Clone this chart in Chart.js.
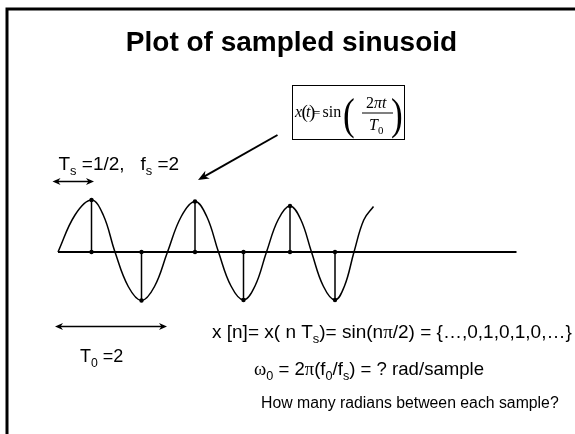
<!DOCTYPE html>
<html>
<head>
<meta charset="utf-8">
<script src="https://cdn.jsdelivr.net/npm/chart.js@4.4.0/dist/chart.umd.min.js"></script>
<style>
  body { margin: 0; background: #fff; }
  #wrap { position: relative; width: 575px; height: 434px; }
</style>
</head>
<body>
<div id="wrap"><canvas id="sinePlot" width="575" height="434"></canvas></div>
<script>
// time axis: 1 unit ~ 50px, period ~2 ; y in units of amplitude
const curveT = [0, 0.34, 0.67, 0.905, 1.14, 1.405, 1.67, 1.93, 2.19, 2.465, 2.74, 2.975, 3.21, 3.46, 3.71, 3.94, 4.17, 4.405, 4.64, 4.855, 5.07, 5.305, 5.54, 5.73, 5.92, 6.115, 6.31];
const curveY = [0, 0.74, 1.04, 0.74, 0, -0.69, -0.97, -0.69, 0, 0.71, 1.01, 0.71, 0, -0.68, -0.96, -0.68, 0, 0.65, 0.92, 0.65, 0, -0.68, -0.96, -0.68, 0, 0.64, 0.91];
const sampleT = [0.67, 1.67, 2.74, 3.71, 4.64, 5.54];
const sampleY = [1.04, -0.97, 1.01, -0.96, 0.92, -0.96];
const axisT = [0, 9.17];

// annotation arrows, same units
const tsArrow = { from: [-0.11, 1.41], to: [0.72, 1.41] };
const t0Arrow = { from: [-0.06, -1.49], to: [2.18, -1.49] };
const eqArrow = { from: [4.39, 2.34], to: [2.8, 1.44] };

const curve = {
  data: curveT.map((t, i) => ({ x: t, y: curveY[i] })),
  borderColor: '#000', borderWidth: 1.5, pointRadius: 0, tension: 0.4, fill: false
};
const axisLine = {
  data: axisT.map(t => ({ x: t, y: 0 })),
  borderColor: '#000', borderWidth: 2, pointRadius: 0, fill: false
};
const stems = sampleT.map((t, i) => ({
  data: [{ x: t, y: 0 }, { x: t, y: sampleY[i] }],
  borderColor: '#000', borderWidth: 1.5, pointRadius: 2.2,
  pointBackgroundColor: '#000', pointBorderWidth: 0, fill: false
}));

function arrowHead(ctx, x1, y1, x2, y2, len, half) {
  const a = Math.atan2(y2 - y1, x2 - x1);
  ctx.beginPath();
  ctx.moveTo(x2, y2);
  ctx.lineTo(x2 - len * Math.cos(a) + half * Math.sin(a), y2 - len * Math.sin(a) - half * Math.cos(a));
  ctx.lineTo(x2 - len * 0.7 * Math.cos(a), y2 - len * 0.7 * Math.sin(a));
  ctx.lineTo(x2 - len * Math.cos(a) - half * Math.sin(a), y2 - len * Math.sin(a) + half * Math.cos(a));
  ctx.closePath();
  ctx.fill();
}

function drawRuns(ctx, x, y, size, runs) {
  runs.forEach(r => {
    const s = r.sub ? size * 0.68 : size;
    const fam = r.serif ? '"Liberation Serif"' : '"Liberation Sans"';
    ctx.font = (r.italic ? 'italic ' : '') + s + 'px ' + fam;
    ctx.fillText(r.t, x, y + (r.sub ? size * 0.25 : 0));
    x += ctx.measureText(r.t).width;
  });
}

// place single glyphs at given x
function serifAt(ctx, txt, x, y, size, italic) {
  ctx.font = (italic ? 'italic ' : '') + size + 'px "Liberation Serif"';
  ctx.fillText(txt, x, y);
}

const slideDecor = {
  id: 'slideDecor',
  afterDraw(chart) {
    const ctx = chart.ctx;
    const sx = chart.scales.x, sy = chart.scales.y;
    const px = p => [sx.getPixelForValue(p[0]), sy.getPixelForValue(p[1])];
    ctx.save();
    ctx.fillStyle = '#000';
    ctx.strokeStyle = '#000';

    // slide frame
    ctx.lineWidth = 3;
    ctx.beginPath();
    ctx.moveTo(7, 434);
    ctx.lineTo(7, 9);
    ctx.lineTo(575, 9);
    ctx.stroke();

    // double arrows
    ctx.lineWidth = 1.5;
    [tsArrow, t0Arrow].forEach(a => {
      const [x1, y1] = px(a.from), [x2, y2] = px(a.to);
      ctx.beginPath();
      ctx.moveTo(x1 + 3, y1);
      ctx.lineTo(x2 - 3, y2);
      ctx.stroke();
      arrowHead(ctx, x1, y1, x2, y2, 8, 3.5);
      arrowHead(ctx, x2, y2, x1, y1, 8, 3.5);
    });

    // arrow from formula to curve
    {
      const [x1, y1] = px(eqArrow.from), [x2, y2] = px(eqArrow.to);
      ctx.lineWidth = 2;
      ctx.beginPath();
      ctx.moveTo(x1, y1);
      ctx.lineTo(x2 + 6, y2 - 3.4);
      ctx.stroke();
      arrowHead(ctx, x1, y1, x2, y2, 11, 4.5);
    }

    // formula box
    ctx.lineWidth = 1;
    ctx.strokeRect(292.5, 85.5, 112, 54);
    serifAt(ctx, 'x', 295, 117, 16, true);
    serifAt(ctx, '(', 301.5, 118, 19, false);
    serifAt(ctx, 't', 306, 117, 16, true);
    serifAt(ctx, ')', 309, 118, 19, false);
    serifAt(ctx, '=', 313, 117, 13, false);
    serifAt(ctx, 'sin', 322.5, 117, 16, false);
    ctx.save();
    ctx.translate(0, 0);
    ctx.scale(0.8, 1);
    serifAt(ctx, '(', 343 / 0.8, 129, 44, false);
    serifAt(ctx, ')', 391 / 0.8, 129, 44, false);
    ctx.restore();
    drawRuns(ctx, 366, 108, 16, [{ t: '2', serif: true }, { t: 'πt', serif: true, italic: true }]);
    ctx.fillRect(362, 112.5, 31, 1);
    drawRuns(ctx, 369, 130, 16, [{ t: 'T', serif: true, italic: true }, { t: '0', serif: true, sub: true }]);

    // labels
    drawRuns(ctx, 58.5, 170, 19, [
      { t: 'T' }, { t: 's', sub: true }, { t: ' =1/2,   f' }, { t: 's', sub: true }, { t: ' =2' }
    ]);
    drawRuns(ctx, 80, 362, 18, [{ t: 'T' }, { t: '0', sub: true }, { t: ' =2' }]);
    drawRuns(ctx, 212, 338, 19, [
      { t: 'x [n]= x( n T' }, { t: 's', sub: true }, { t: ')= sin(n' },
      { t: 'π', serif: true }, { t: '/2) = {…,0,1,0,1,0,…}' }
    ]);
    drawRuns(ctx, 254, 375, 18.6, [
      { t: 'ω', serif: true }, { t: '0', sub: true }, { t: ' = 2' }, { t: 'π', serif: true },
      { t: '(f' }, { t: '0', sub: true }, { t: '/f' }, { t: 's', sub: true }, { t: ') = ? rad/sample' }
    ]);
    drawRuns(ctx, 261, 408, 15.8, [{ t: 'How many radians between each sample?' }]);
    ctx.restore();
  }
};

new Chart(document.getElementById('sinePlot'), {
  type: 'line',
  data: { datasets: [curve, axisLine, ...stems] },
  options: {
    responsive: false,
    animation: false,
    events: [],
    layout: { autoPadding: false, padding: { left: 8, right: 0, top: 0, bottom: 7 } },
    scales: {
      x: { type: 'linear', display: false, min: -1, max: 10.34 },
      y: { display: false, min: -3.5, max: 3 }
    },
    plugins: {
      legend: { display: false },
      tooltip: { enabled: false },
      title: {
        display: true,
        text: 'Plot of sampled sinusoid',
        color: '#000',
        font: { family: 'Liberation Sans', size: 28, weight: 'bold' },
        padding: { top: 26, bottom: 42.4 }
      }
    }
  },
  plugins: [slideDecor]
});
</script>
</body>
</html>
